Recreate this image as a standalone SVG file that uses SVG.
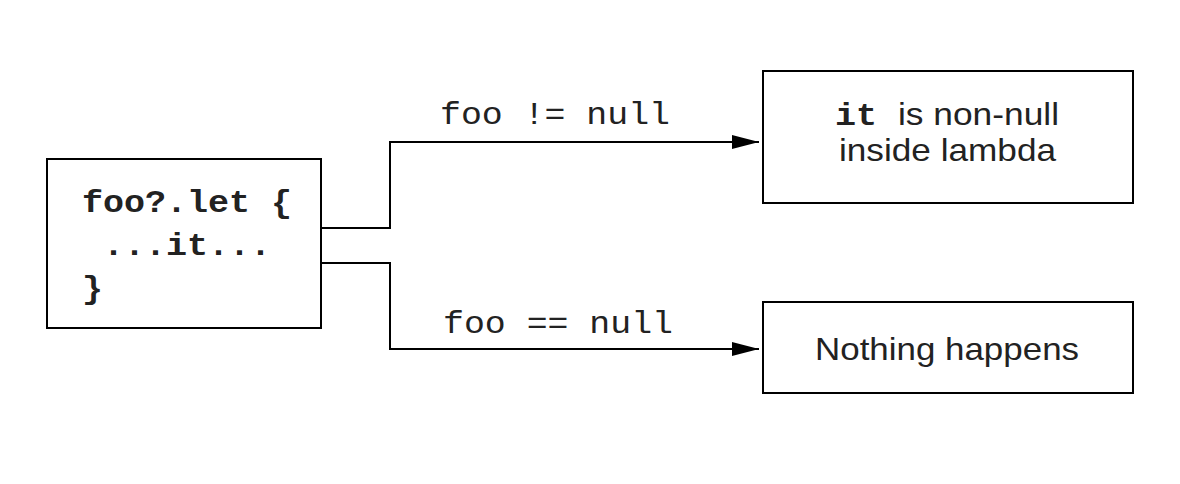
<svg xmlns="http://www.w3.org/2000/svg" width="1180" height="484" viewBox="0 0 1180 484">
<style>
.box{fill:#fff;stroke:#000;stroke-width:2}
.mono{font-family:"Liberation Mono","Courier New",monospace;font-size:31px;fill:#222}
.bold{font-weight:bold}
.sans{font-family:"Liberation Sans",Arial,Helvetica,sans-serif;font-size:32px;fill:#222}
.conn{fill:none;stroke:#000;stroke-width:2}
</style>
<defs>
<marker id="arr" markerWidth="28" markerHeight="16" refX="27" refY="8" orient="auto" markerUnits="userSpaceOnUse">
<path d="M0,1 L27,8 L0,15 Z" fill="#000"/>
</marker>
</defs>
<rect width="1180" height="484" fill="#fff"/>
<g id="connectors">
<path class="conn" d="M321,228 H390 V142 H759" marker-end="url(#arr)"/>
<path class="conn" d="M321,263 H390 V349 H759" marker-end="url(#arr)"/>
<text class="mono" x="440" y="124" textLength="230" lengthAdjust="spacingAndGlyphs">foo != null</text>
<text class="mono" x="443" y="333" textLength="230" lengthAdjust="spacingAndGlyphs">foo == null</text>
</g>
<g id="code">
<rect class="box" x="47" y="159" width="274" height="169"/>
<text class="mono bold" x="82" y="212" textLength="210" lengthAdjust="spacingAndGlyphs">foo?.let {</text>
<text class="mono bold" x="103" y="255" textLength="168" lengthAdjust="spacingAndGlyphs">...it...</text>
<text class="mono bold" x="82" y="298" textLength="21" lengthAdjust="spacingAndGlyphs">}</text>
</g>
<g id="nonnull">
<rect class="box" x="763" y="71" width="370" height="132"/>
<text class="mono bold" x="835" y="125" textLength="42" lengthAdjust="spacingAndGlyphs">it</text>
<text class="sans" x="898" y="125" textLength="161" lengthAdjust="spacingAndGlyphs">is non-null</text>
<text class="sans" x="839" y="161" textLength="217" lengthAdjust="spacingAndGlyphs">inside lambda</text>
</g>
<g id="nothing">
<rect class="box" x="763" y="302" width="370" height="91"/>
<text class="sans" x="815" y="360" textLength="264" lengthAdjust="spacingAndGlyphs">Nothing happens</text>
</g>
</svg>
